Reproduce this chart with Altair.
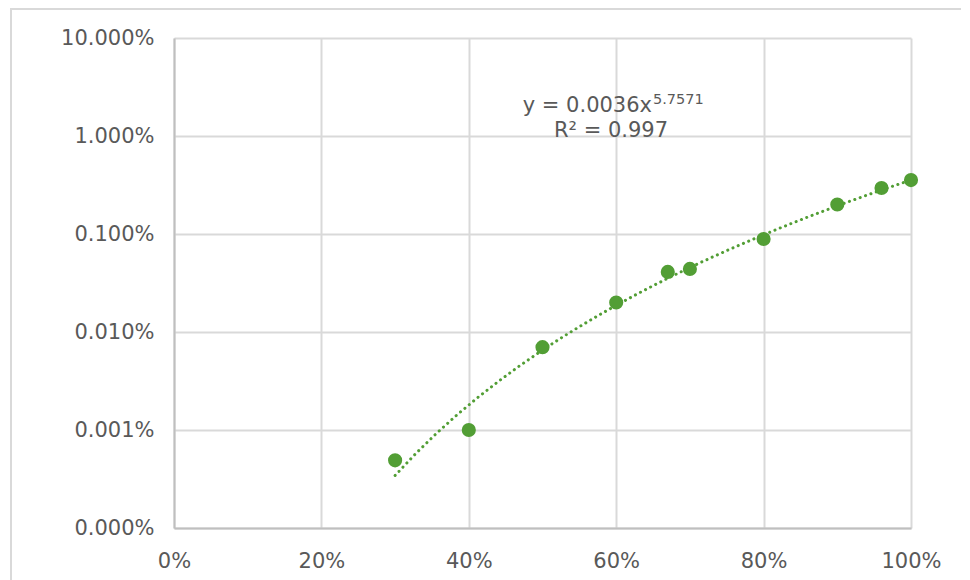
import altair as alt
import pandas as pd

# Data (fractions; axis shows percent)
x_vals = [0.30, 0.40, 0.50, 0.60, 0.67, 0.70, 0.80, 0.90, 0.96, 1.00]
y_vals = [4.9e-6, 1.0e-5, 7.0e-5, 2.0e-4, 4.1e-4, 4.4e-4, 8.9e-4, 2.0e-3, 2.95e-3, 3.55e-3]

x_ticks = [0, 0.2, 0.4, 0.6, 0.8, 1.0]
y_ticks = [1e-6, 1e-5, 1e-4, 1e-3, 1e-2, 1e-1]

eq_main = "y = 0.0036x"
eq_sup = "5.7571"
r2_text = "R² = 0.997"

df = pd.DataFrame({"x": x_vals, "y": y_vals})

GREEN = "#529E35"
FONT = "DejaVu Sans"
TXT = "#595959"

xscale = alt.Scale(domain=[0, 1], nice=False, zero=False)
yscale = alt.Scale(type="log", domain=[1e-6, 1e-1], nice=False)

base = alt.Chart(df)

points = base.mark_circle(size=200, opacity=1, color=GREEN).encode(
    x=alt.X("x:Q", scale=xscale,
            axis=alt.Axis(values=x_ticks, format=".0%", title=None, labelPadding=22,
                          labelBaseline="top", labelFlush=False)),
    y=alt.Y("y:Q", scale=yscale,
            axis=alt.Axis(values=y_ticks, format=".3%", title=None, labelPadding=20,
                          labelFlush=False)),
)

trend = base.transform_regression(
    "x", "y", method="pow", extent=[0.30, 1.00]
).mark_line(
    color=GREEN, strokeWidth=3, strokeDash=[0.1, 5.6], strokeCap="round"
).encode(
    x=alt.X("x:Q", scale=xscale),
    y=alt.Y("y:Q", scale=yscale),
)

one = pd.DataFrame({"a": [0]})
ann = alt.Chart(one)
t1 = ann.mark_text(text=eq_main, font=FONT, fontSize=21, color=TXT, align="right",
                   baseline="middle").encode(x=alt.value(478), y=alt.value(68))
t2 = ann.mark_text(text=eq_sup, font=FONT, fontSize=14.5, color=TXT, align="left",
                   baseline="middle").encode(x=alt.value(479), y=alt.value(62))
t3 = ann.mark_text(text=r2_text, font=FONT, fontSize=21, color=TXT, align="center",
                   baseline="middle").encode(x=alt.value(437), y=alt.value(93))

border_top = ann.mark_rule(color="#D9D9D9", strokeWidth=2).encode(
    x=alt.value(-163), x2=alt.value(800), y=alt.value(-29))
border_left = ann.mark_rule(color="#D9D9D9", strokeWidth=2).encode(
    x=alt.value(-163), y=alt.value(-30), y2=alt.value(545))

chart = alt.layer(border_top, border_left, trend, points, t1, t2, t3).properties(
    width=737, height=490,
    autosize=alt.AutoSizeParams(type="none"),
    padding={"left": 166, "top": 30, "right": 50, "bottom": 52},
).configure_view(stroke=None).configure_axis(
    labelFont=FONT, labelFontSize=21, labelColor=TXT,
    ticks=False, tickSize=0,
    grid=True, gridColor="#D9D9D9", gridWidth=2,
    domainColor="#BFBFBF", domainWidth=2,
)

chart.save("out.html", embed_options={"renderer": "svg", "actions": False})
